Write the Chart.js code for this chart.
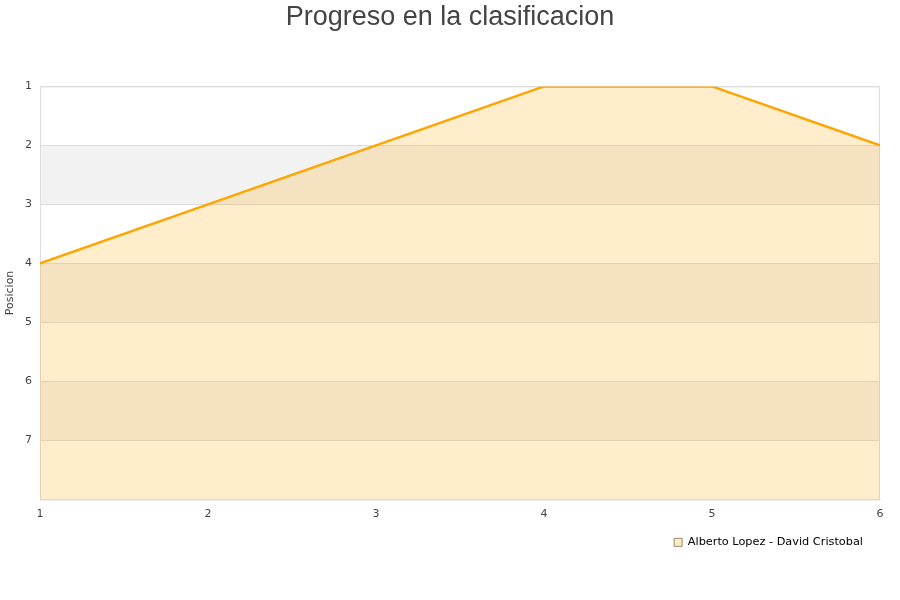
<!DOCTYPE html>
<html>
<head>
<meta charset="utf-8">
<script src="https://cdn.jsdelivr.net/npm/chart.js@4.4.0/dist/chart.umd.min.js"></script>
<style>
  html, body { margin: 0; padding: 0; background: #fff; }
  #wrap { width: 900px; height: 600px; }
</style>
</head>
<body>
<div id="wrap"><canvas id="chart"></canvas></div>
<script>
// Data
const jornadas = [1, 2, 3, 4, 5, 6];
const posiciones = [4, 3, 2, 1, 1, 2];
const pairName = 'Alberto Lopez - David Cristobal';
const yTicks = [1, 2, 3, 4, 5, 6, 7];

// Alternating grey bands + plot border, drawn through the scales
const bandsPlugin = {
  id: 'bands',
  afterLayout(chart) {
    // centre the title on the full canvas, nudge the legend left a bit
    if (chart.titleBlock) chart.titleBlock.right += 20;
    if (chart.legend) {
      chart.legend.left -= 9;
      chart.legend.right -= 9;
    }
  },
  beforeDatasetsDraw(chart) {
    const { ctx, chartArea, scales } = chart;
    const y = scales.y;
    ctx.save();
    for (let v = 2; v < 8; v += 2) {
      const top = y.getPixelForValue(v);
      const bottom = y.getPixelForValue(v + 1);
      ctx.fillStyle = '#f2f2f2';
      ctx.fillRect(chartArea.left, top, chartArea.right - chartArea.left, bottom - top);
    }
    ctx.strokeStyle = '#dddddd';
    ctx.lineWidth = 1;
    ctx.strokeRect(chartArea.left + 0.5, chartArea.top + 0.5,
      chartArea.right - chartArea.left - 1, chartArea.bottom - chartArea.top);
    // redraw gridlines over bands
    yTicks.forEach(v => {
      const py = Math.round(y.getPixelForValue(v)) + 0.5;
      ctx.beginPath();
      ctx.moveTo(chartArea.left, py);
      ctx.lineTo(chartArea.right, py);
      ctx.stroke();
    });
    ctx.restore();
  }
};

const ctx = document.getElementById('chart').getContext('2d');
new Chart(ctx, {
  type: 'line',
  data: {
    datasets: [{
      label: pairName,
      data: jornadas.map((j, i) => ({ x: j, y: posiciones[i] })),
      borderColor: '#ffa500',
      backgroundColor: 'rgba(255, 165, 0, 0.2)',
      borderWidth: 2.5,
      pointRadius: 0,
      fill: { value: 8 },
      tension: 0
    }]
  },
  options: {
    responsive: true,
    maintainAspectRatio: false,
    animation: false,
    layout: { padding: { left: 0, right: 20, top: 0, bottom: 42 } },
    plugins: {
      title: {
        display: true,
        text: 'Progreso en la clasificacion',
        color: '#444',
        font: { family: 'Liberation Sans', size: 27, weight: 'normal' },
        padding: { top: 1, bottom: 53 }
      },
      legend: {
        position: 'bottom',
        align: 'end',
        labels: {
          color: '#000',
          boxWidth: 8,
          boxHeight: 8,
          padding: 8,
          font: { family: 'DejaVu Sans', size: 11.3 },
          generateLabels(chart) {
            return [{
              text: pairName,
              fillStyle: '#ffebc8',
              strokeStyle: '#9a8a70',
              lineWidth: 1,
              datasetIndex: 0
            }];
          }
        }
      },
      tooltip: { enabled: false }
    },
    scales: {
      x: {
        type: 'linear',
        min: 1,
        max: 6,
        grid: { display: false, drawTicks: false },
        border: { color: '#dddddd' },
        ticks: {
          stepSize: 1,
          color: '#444',
          font: { family: 'DejaVu Sans', size: 11 },
          padding: 8
        }
      },
      y: {
        reverse: true,
        min: 1,
        max: 8,
        grid: { color: '#dddddd', drawTicks: false },
        border: { color: '#dddddd' },
        title: {
          display: true,
          text: 'Posicion',
          color: '#444',
          font: { family: 'DejaVu Sans', size: 11 },
          padding: { top: 4, bottom: 0 }
        },
        ticks: {
          stepSize: 1,
          color: '#444',
          padding: 8,
          font: { family: 'DejaVu Sans', size: 11 },
          callback: v => (yTicks.includes(v) ? v : '')
        },
        afterFit(scale) { scale.width = 40; }
      }
    }
  },
  plugins: [bandsPlugin]
});
</script>
</body>
</html>
